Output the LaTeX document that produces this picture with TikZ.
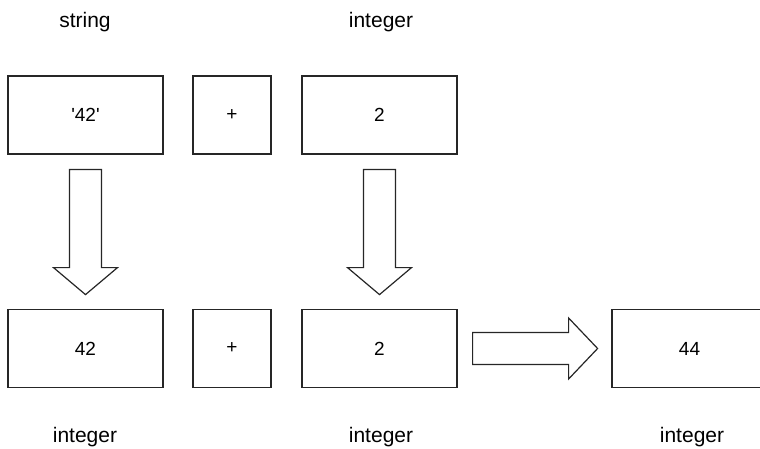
\documentclass[tikz,border=0pt]{standalone}
\usepackage{fontspec}
\setmainfont{Liberation Sans}
\newfontfamily\plainsans{Liberation Sans}
\usetikzlibrary{calc}

\tikzset{
  box/.style={draw=black!85, line width=1.2pt, minimum width=155pt, minimum height=78pt, inner sep=0pt, font=\plainsans\fontsize{19}{19}\selectfont},
  opbox/.style={box, minimum width=78pt},
  typelabel/.style={font=\fontsize{21}{21}\selectfont},
  fatarrow/.style={draw=black!85, line width=1.2pt, line join=miter, fill=white},
}

\begin{document}
\begin{tikzpicture}[x=1pt, y=-1pt]
\clip (0,0) rectangle (760,449);

% top row
\node[box] (strA) at (85.5,115) {'42'};
\node[opbox] (plusA) at (232,115) {+};
\node[box] (twoA) at (379.5,115) {2};

% bottom row
\node[box] (numB) at (85.5,348.5) {42};
\node[opbox] (plusB) at (232,348.5) {+};
\node[box] (twoB) at (379.5,348.5) {2};
\node[box] (sum) at (689.5,348.5) {44};

% type labels
\node[typelabel] (tStr) at (85,22) {string};
\node[typelabel] (tIntA) at (381,22) {integer};
\node[typelabel] (tNum) at (85,437) {integer};
\node[typelabel] (tTwo) at (381,437) {integer};
\node[typelabel] (tSum) at (692,437) {integer};

% conversion arrows
\draw[fatarrow] ($(strA.south)+(-16,15)$) -- ++(0,98) -- ++(-16,0) -- ++(32,27)
  -- ++(32,-27) -- ++(-16,0) -- ++(0,-98) -- cycle;
\draw[fatarrow] ($(twoA.south)+(-16,15)$) -- ++(0,98) -- ++(-16,0) -- ++(32,27)
  -- ++(32,-27) -- ++(-16,0) -- ++(0,-98) -- cycle;

% result arrow
\draw[fatarrow] ($(twoB.east)+(15,-16)$) -- ++(96,0) -- ++(0,-14.5) -- ++(29,30.5)
  -- ++(-29,30.5) -- ++(0,-14.5) -- ++(-96,0) -- cycle;

\end{tikzpicture}
\end{document}
